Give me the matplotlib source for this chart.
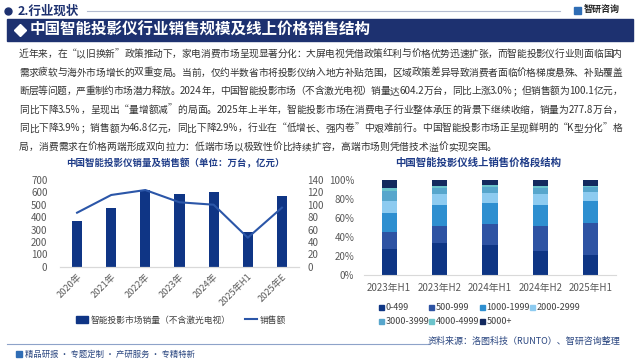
import re
import matplotlib
matplotlib.use("Agg")
import matplotlib.pyplot as plt
import numpy as np
from matplotlib.patches import Rectangle, Patch
from matplotlib.lines import Line2D

plt.rcParams['font.family'] = ['Noto Sans CJK SC', 'DejaVu Sans']

# ---- data ----
years = ["2020年", "2021年", "2022年", "2023年", "2024年", "2025年H1", "2025年E"]
sales_volume = [369, 476, 620, 584, 604.2, 277.8, 571]      # 万台
sales_value = [87.2, 115.8, 123.8, 104.0, 100.1, 46.8, 95.3]  # 亿元

periods = ["2023年H1", "2023年H2", "2024年H1", "2024年H2", "2025年H1"]
price_bands = ["0-499", "500-999", "1000-1999", "2000-2999", "3000-3999", "4000-4999", "5000+"]
band_share = [
    [27.4, 34.0, 31.9, 25.3, 21.4],   # 0-499
    [17.9, 17.9, 22.1, 26.6, 33.3],   # 500-999
    [20.0, 21.4, 22.1, 22.1, 23.3],   # 1000-1999
    [12.9, 12.0, 10.2, 11.3, 9.2],    # 2000-2999
    [10.6, 6.3, 6.3, 5.9, 5.2],       # 3000-3999
    [2.4, 2.4, 2.1, 2.5, 1.4],        # 4000-4999
    [8.8, 6.0, 5.3, 6.3, 6.0],        # 5000+
]
band_colors = ["#0E3584", "#2E53A3", "#2E8FD0", "#8DCBF0", "#57A6CC", "#6BC3CB", "#13295E"]

intro_lines = [
    "近年来，在“以旧换新”政策推动下，家电消费市场呈现显著分化：大屏电视凭借政策红利与价格优势迅速扩张，而智能投影仪行业则面临国内",
    "需求疲软与海外市场增长的双重变局。当前，仅约半数省市将投影仪纳入地方补贴范围，区域政策差异导致消费者面临价格梯度悬殊、补贴覆盖",
    "断层等问题，严重制约市场潜力释放。2024年，中国智能投影市场（不含激光电视）销量达604.2万台，同比上涨3.0%；但销售额为100.1亿元，",
    "同比下降3.5%，呈现出“量增额减”的局面。2025年上半年，智能投影市场在消费电子行业整体承压的背景下继续收缩，销量为277.8万台，",
    "同比下降3.9%；销售额为46.8亿元，同比下降2.9%，行业在“低增长、强内卷”中艰难前行。中国智能投影市场正呈现鲜明的“K型分化”格",
    "局，消费需求在价格两端形成双向拉力：低端市场以极致性价比持续扩容，高端市场则凭借技术溢价实现突围。",
]

W, H = 640, 359
NAVY = "#1D3170"
fig = plt.figure(figsize=(W / 100, H / 100), dpi=100)


def fx(x):
    return x / W


def fy(y):
    return 1 - y / H


# ---- header ----
fig.add_artist(Line2D([fx(8)], [fy(11)], marker="o", markersize=5, color=NAVY, transform=fig.transFigure))
fig.text(fx(18), fy(11), "2.行业现状", fontsize=9, fontweight="bold", color=NAVY, va="center")
fig.add_artist(Line2D([fx(87), fx(560)], [fy(11), fy(11)], color="#B4BCD0", lw=0.8, transform=fig.transFigure))
fig.add_artist(Rectangle((fx(574), fy(14)), fx(7), 7 / H, color="#2F6DB5", transform=fig.transFigure))
fig.text(fx(584), fy(9.5), "智研咨询", fontsize=6.5, fontweight="bold", color="#222222", va="center")

# title banner
fig.add_artist(Rectangle((fx(7), fy(41)), fx(626), 22 / H, color=NAVY, transform=fig.transFigure))
fig.add_artist(Line2D([fx(20)], [fy(30)], marker="D", markersize=6, color="white", transform=fig.transFigure))
fig.text(fx(30), fy(30), "中国智能投影仪行业销售规模及线上价格销售结构", fontsize=11.2,
         fontweight="bold", color="white", va="center")

# ---- intro paragraph (justified) ----
renderer = fig.canvas.get_renderer()
x_left, x_right = 19, 622
for i, line in enumerate(intro_lines):
    y = 54 + i * 18.6
    tokens = re.findall(r"[A-Za-z0-9.%]+|.", line)
    texts = [fig.text(0, fy(y), tok, fontsize=7, color="#333333", va="center") for tok in tokens]
    widths = [t.get_window_extent(renderer).width for t in texts]
    if i < len(intro_lines) - 1:
        gap = (x_right - x_left - sum(widths)) / (len(tokens) - 1)
    else:
        gap = 0
    x = x_left
    for t, w in zip(texts, widths):
        t.set_x(fx(x))
        x += w + gap

# ---- left chart ----
ax1 = fig.add_axes([fx(60), fy(266.7), fx(239), 86.7 / H])
xpos = np.arange(len(years))
ax1.bar(xpos, sales_volume, width=0.3, color="#0F3585")
ax1.set_xlim(-0.5, len(years) - 0.5)
ax1.set_ylim(0, 700)
ax1.set_yticks(np.arange(0, 701, 100))
ax1b = ax1.twinx()
ax1b.plot(xpos, sales_value, color="#2B56A8", lw=1.5)
ax1b.set_ylim(0, 140)
ax1b.set_yticks(np.arange(0, 141, 20))
for a in (ax1, ax1b):
    for s in ("top", "left", "right"):
        a.spines[s].set_visible(False)
    a.spines["bottom"].set_color("#D9D9D9")
    a.tick_params(length=0, labelsize=7, labelcolor="#595959")
ax1.tick_params(axis="y", pad=9)
ax1b.tick_params(axis="y", pad=6)
ax1.set_xticks(xpos)
ax1.set_xticklabels(years, rotation=45, ha="right", rotation_mode="anchor")
ax1.tick_params(axis="x", pad=4, labelsize=6.7)
fig.text(fx(175), fy(163), "中国智能投影仪销量及销售额（单位：万台，亿元）", fontsize=6.8,
         fontweight="bold", color="#1F3C88", ha="center", va="center")
handles = [Patch(color="#0F3585"), Line2D([0], [0], color="#2B56A8", lw=1.5)]
fig.legend(handles, ["智能投影市场销量（不含激光电视）", "销售额"], loc="center",
           bbox_to_anchor=(fx(181), fy(320)), ncol=2, frameon=False, fontsize=6.3,
           handlelength=1.4, handleheight=0.7, columnspacing=1.6, handletextpad=0.3,
           labelcolor="#404040")

# ---- right chart ----
ax2 = fig.add_axes([fx(364), fy(275), fx(252), 95 / H])
ppos = np.arange(len(periods))
bottom = np.zeros(len(periods))
for band, share, col in zip(price_bands, band_share, band_colors):
    vals = np.array(share) / 100
    ax2.bar(ppos, vals, bottom=bottom, width=0.3, color=col, label=band)
    bottom += vals
ax2.set_xlim(-0.5, len(periods) - 0.5)
ax2.set_ylim(0, 1.0)
ax2.set_yticks(np.arange(0, 1.01, 0.2))
ax2.set_yticklabels(["0%", "20%", "40%", "60%", "80%", "100%"])
ax2.set_xticks(ppos)
ax2.set_xticklabels(periods)
for s in ("top", "left", "right"):
    ax2.spines[s].set_visible(False)
ax2.spines["bottom"].set_color("#D9D9D9")
ax2.tick_params(length=0, labelsize=7, labelcolor="#595959")
ax2.tick_params(axis="y", pad=7)
ax2.tick_params(axis="x", pad=6)
fig.text(fx(478), fy(163), "中国智能投影仪线上销售价格段结构", fontsize=7.5,
         fontweight="bold", color="#1F3C88", ha="center", va="center")

# legend in fixed-width columns, filled row by row
col_x = [381, 431.5, 482, 532.5]
row_y = [307, 321]
for k, (band, col) in enumerate(zip(price_bands, band_colors)):
    cx = col_x[k % 4]
    cy = row_y[k // 4]
    fig.add_artist(Rectangle((fx(cx - 2.5), fy(cy + 2.5)), fx(5), 5 / H, color=col,
                             transform=fig.transFigure))
    fig.text(fx(cx + 4.5), fy(cy), band, fontsize=6.5, color="#404040", va="center")

# ---- footer ----
fig.add_artist(Line2D([fx(7), fx(430)], [fy(344), fy(344)], color="#8EA3C9", lw=0.8,
                      transform=fig.transFigure))
fig.text(fx(620), fy(341), "资料来源：洛图科技（RUNTO）、智研咨询整理", fontsize=6.5,
         color="#2A4680", ha="right", va="center")
fig.add_artist(Rectangle((fx(16), fy(357)), fx(6), 6 / H, color="#2F6DB5", transform=fig.transFigure))
fig.text(fx(25), fy(354), "精品研报 · 专题定制 · 产研服务 · 专精特新", fontsize=6,
         color="#2A4680", va="center")

fig.savefig("out.png", dpi=100)
